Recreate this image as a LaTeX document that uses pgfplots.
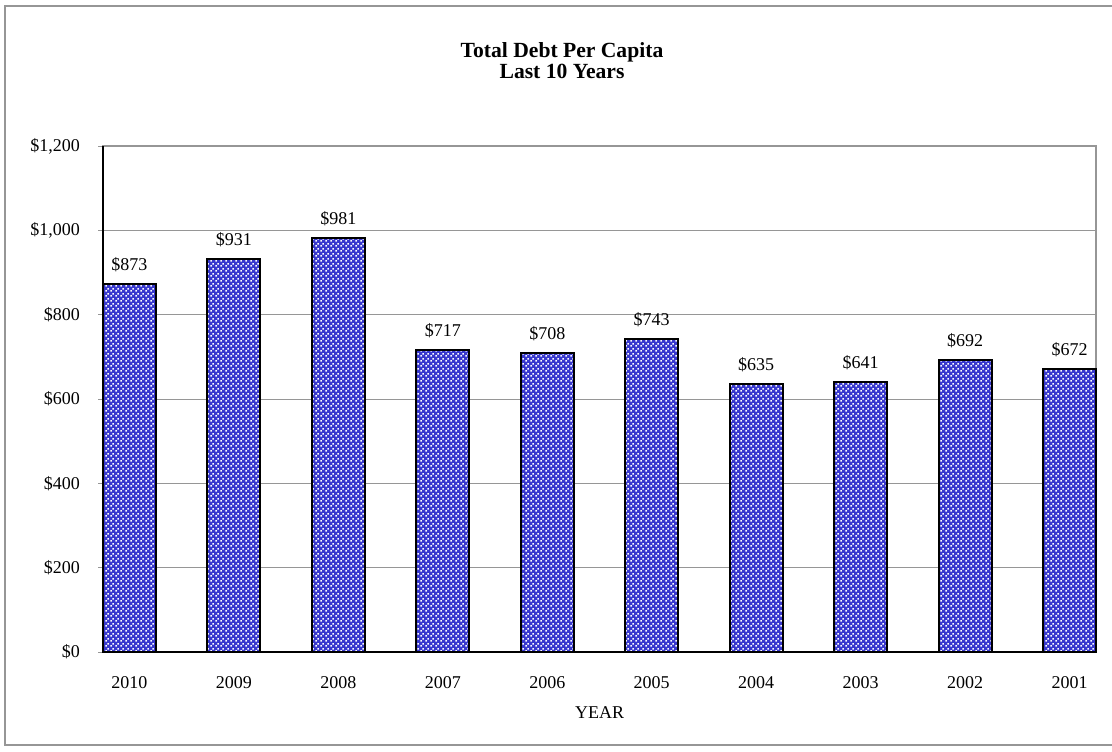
\documentclass[border=0pt]{standalone}
\usepackage{fontspec}
\setmainfont{Liberation Serif}
\usepackage{pgfplots}
\pgfplotsset{compat=1.18}
\usetikzlibrary{patterns}
\definecolor{barblue}{RGB}{56,56,206}
\definecolor{gridgray}{RGB}{150,150,150}
\pgfdeclarepatternformonly{whitedots}{\pgfqpoint{0pt}{0pt}}{\pgfqpoint{2.5pt}{2.5pt}}{\pgfqpoint{2.5pt}{2.5pt}}{%
  \pgfpathrectangle{\pgfqpoint{0.15pt}{0.15pt}}{\pgfqpoint{0.95pt}{0.95pt}}%
  \pgfpathrectangle{\pgfqpoint{1.4pt}{1.4pt}}{\pgfqpoint{0.95pt}{0.95pt}}%
  \pgfusepath{fill}}
\begin{document}
\begin{tikzpicture}
\useasboundingbox (0,0) rectangle (556pt,375.5pt);
\draw[gridgray, line width=0.6pt] (570pt,372.5pt) -- (2.5pt,372.5pt) -- (2.5pt,3pt) -- (570pt,3pt);
\node[font=\bfseries\fontsize{10.8}{12}\selectfont, anchor=base] at (281pt,346.5pt) {Total Debt Per Capita};
\node[font=\bfseries\fontsize{10.8}{12}\selectfont, anchor=base] at (281pt,336pt) {Last 10 Years};
\begin{axis}[
  at={(51.5pt,49.5pt)}, anchor=south west,
  scale only axis, width=496.5pt, height=253pt,
  xmin=-0.2535, xmax=9.2535,
  ymin=0, ymax=1200,
  ytick={0,200,400,600,800,1000,1200},
  yticklabels={\$0,\$200,\$400,\$600,\$800,{\$1,000},{\$1,200}},
  xtick={0,1,2,3,4,5,6,7,8,9},
  xticklabels={2010,2009,2008,2007,2006,2005,2004,2003,2002,2001},
  xtick pos=bottom, ytick pos=left,
  xtick style={draw=none},
  extra x ticks={-0.2535,0.2535,0.7465,1.2535,1.7465,2.2535,2.7465,3.2535,3.7465,4.2535,4.7465,5.2535,5.7465,6.2535,6.7465,7.2535,7.7465,8.2535,8.7465,9.2535},
  extra x tick labels={},
  extra x tick style={tick style={draw=gridgray, line width=0.5pt}, major tick length=2.5pt, grid=none},
  tick align=outside,
  major tick length=2.5pt,
  ytick style={draw=gridgray, line width=0.5pt},
  ymajorgrids,
  grid style={draw=gridgray, line width=0.5pt},
  axis line style={draw=gridgray, line width=0.8pt},
  tick label style={font=\fontsize{9}{10}\selectfont},
  xticklabel style={anchor=base, yshift=-15.5pt},
  yticklabel style={anchor=east, xshift=-5.5pt},
  /pgf/number format/assume math mode=true,
  ybar, bar width=0.507,
  nodes near coords={\$\pgfmathprintnumber{\pgfplotspointmeta}},
  nodes near coords style={anchor=base, yshift=6.8pt, font=\fontsize{9}{10}\selectfont},
  clip=false,
]
\addplot[draw=black, line width=1pt, fill=barblue, postaction={pattern=whitedots, pattern color=white}]
  coordinates {(0,873) (1,931) (2,981) (3,717) (4,708) (5,743) (6,635) (7,641) (8,692) (9,672)};
\draw[black, line width=0.6pt] (rel axis cs:0,1) -- (rel axis cs:0,0) -- (rel axis cs:1,0);
\node[anchor=base, font=\fontsize{9}{10}\selectfont] at (rel axis cs:0.5,0) [yshift=-33pt] {YEAR};
\end{axis}
\end{tikzpicture}
\end{document}
